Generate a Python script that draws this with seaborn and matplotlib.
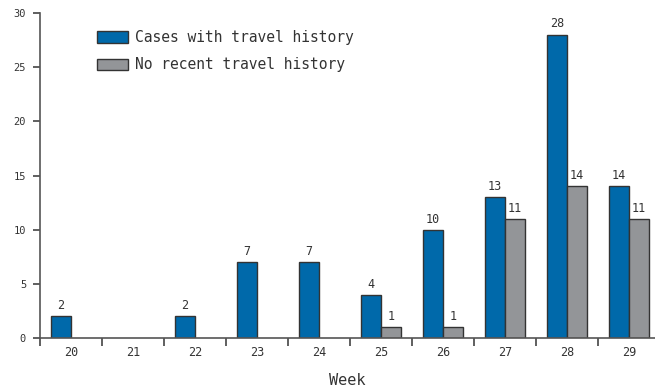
import matplotlib
matplotlib.use("Agg")
import matplotlib.pyplot as plt
import seaborn as sns
import pandas as pd
import numpy as np

weeks = ["20", "21", "22", "23", "24", "25", "26", "27", "28", "29"]
travel = [2, np.nan, 2, 7, 7, 4, 10, 13, 28, 14]
no_travel = [np.nan, np.nan, np.nan, np.nan, np.nan, 1, 1, 11, 14, 11]
series = ["Cases with travel history", "No recent travel history"]
colors = ["#0069aa", "#939598"]

df = pd.DataFrame({
    "week": weeks * 2,
    "cases": travel + no_travel,
    "group": [series[0]] * len(weeks) + [series[1]] * len(weeks),
})

sns.set_style("white")
plt.rcParams["font.family"] = ["DejaVu Sans Mono", "DejaVu Sans"]
text_col = "#333333"

fig = plt.figure(figsize=(6.55, 3.9), dpi=100)
ax = fig.add_axes([40 / 655, 1 - 338 / 390, 615 / 655, 325 / 390])

sns.barplot(data=df, x="week", y="cases", hue="group", order=weeks,
            hue_order=series, palette=colors, saturation=1, width=0.65,
            edgecolor="#333333", linewidth=1.0, ax=ax, legend=True)

# value labels above bars
for cont in ax.containers:
    labels = []
    for bar in cont:
        h = bar.get_height()
        labels.append("" if (np.isnan(h) or h == 0) else f"{int(h)}")
    ax.bar_label(cont, labels=labels, padding=3, fontsize=8.5, color=text_col)

ax.set_ylim(0, 30)
ax.set_xlim(-0.5, 9.42)
ax.set_yticks(range(0, 31, 5))
ax.set_xticks(range(len(weeks)))
ax.set_xticks(np.arange(-0.5, 9.0, 1.0), minor=True)
ax.tick_params(axis="x", which="major", bottom=True, length=0, pad=6,
               labelsize=8.5, labelcolor=text_col)
ax.tick_params(axis="x", which="minor", bottom=True, length=6, width=1.2,
               color="#444444", direction="out")
ax.tick_params(axis="y", left=True, length=5, width=1.2, color="#444444",
               direction="out", labelsize=7.5, labelcolor=text_col, pad=5)

for s in ["top", "right"]:
    ax.spines[s].set_visible(False)
for s in ["left", "bottom"]:
    ax.spines[s].set_color("#555555")
    ax.spines[s].set_linewidth(1.2)

ax.set_ylabel("")
ax.set_xlabel("Week", fontsize=11, color=text_col, labelpad=10)

handles, labels = ax.get_legend_handles_labels()
ax.legend(handles, labels, loc="upper left", bbox_to_anchor=(97 / 655, 1 - 30 / 390),
          bbox_transform=fig.transFigure, frameon=False, fontsize=10.5,
          handlelength=2.1, handleheight=0.85, handletextpad=0.5,
          labelspacing=0.85, borderpad=0, borderaxespad=0, labelcolor=text_col)

fig.savefig("out.png", dpi=100)
